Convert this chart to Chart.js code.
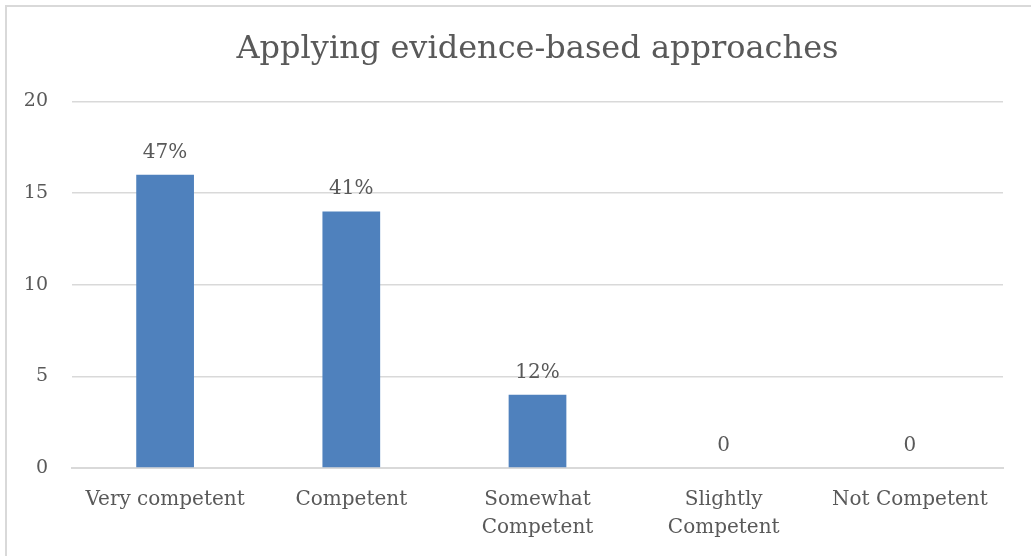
<!DOCTYPE html>
<html>
<head>
<meta charset="utf-8">
<script src="https://cdn.jsdelivr.net/npm/chart.js@4"></script>
<style>
  html, body { margin: 0; padding: 0; background: #fff; overflow: hidden; }
  #wrap { position: relative; width: 1031px; height: 556px; }
  #frame { position: absolute; left: 5px; top: 5px; width: 1040px; height: 570px; border: 2px solid #d9d9d9; box-sizing: border-box; }
  canvas { position: absolute; left: 0; top: 0; }
</style>
</head>
<body>
<div id="wrap">
  <div id="frame"></div>
  <canvas id="competenceChart" width="1031" height="556"></canvas>
</div>
<script>
const categories = ["Very competent", "Competent", ["Somewhat", "Competent"], ["Slightly", "Competent"], "Not Competent"];
const responses = [16, 14, 4, 0, 0];
const valueLabels = ["47%", "41%", "12%", "0", "0"];
const yTicks = [0, 5, 10, 15, 20];

const textColor = "#595959";
const serif = "'DejaVu Serif', serif";

// writes the label above each bar
const barLabels = {
  id: "barLabels",
  afterDatasetsDraw(chart) {
    const ctx = chart.ctx;
    const meta = chart.getDatasetMeta(0);
    ctx.save();
    ctx.font = "20px " + serif;
    ctx.fillStyle = textColor;
    ctx.textAlign = "center";
    ctx.textBaseline = "alphabetic";
    meta.data.forEach((bar, i) => {
      ctx.fillText(valueLabels[i], bar.x, bar.y - 17);
    });
    ctx.restore();
  }
};

const ctx = document.getElementById("competenceChart").getContext("2d");
new Chart(ctx, {
  type: "bar",
  data: {
    labels: categories,
    datasets: [{
      data: responses,
      backgroundColor: "#4f81bd",
      borderWidth: 0,
      categoryPercentage: 1,
      barPercentage: 0.31
    }]
  },
  options: {
    responsive: false,
    animation: false,
    layout: { padding: { left: 0, right: 28, top: 0, bottom: 0 } },
    plugins: {
      legend: { display: false },
      tooltip: { enabled: false },
      title: {
        display: true,
        fullSize: false,
        text: "Applying evidence-based approaches",
        color: textColor,
        font: { family: serif, size: 32, weight: "normal" },
        padding: { top: 30, bottom: 33 }
      }
    },
    scales: {
      x: {
        grid: { display: false, drawTicks: false },
        border: { display: true, color: "#d9d9d9", width: 2 },
        ticks: {
          color: textColor,
          font: { family: serif, size: 20, lineHeight: 1.4 },
          padding: 18,
          maxRotation: 0,
          autoSkip: false
        },
        afterFit(scale) { scale.height = 88; }
      },
      y: {
        min: 0,
        max: 20,
        afterBuildTicks(scale) { scale.ticks = yTicks.map(v => ({ value: v })); },
        grid: { color: "#d9d9d9", lineWidth: 1.5, drawTicks: false },
        border: { display: false },
        ticks: {
          color: textColor,
          font: { family: serif, size: 19 },
          padding: 24
        },
        afterFit(scale) { scale.width = 72; }
      }
    }
  },
  plugins: [barLabels]
});
</script>
</body>
</html>
